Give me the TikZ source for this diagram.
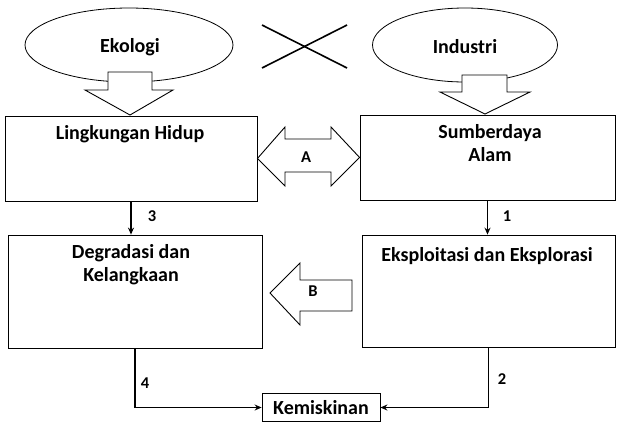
\documentclass[tikz,border=0pt]{standalone}
\usepackage{fontspec}
\setmainfont{Carlito}
\usetikzlibrary{shapes.geometric,arrows.meta}
\begin{document}
\begin{tikzpicture}[x=1pt,y=-1pt,
  box/.style={draw=black,line width=0.8pt,minimum width=#1,inner sep=0pt},
  oval/.style={draw=black,line width=0.8pt,ellipse,inner sep=0pt},
  txt/.style={font=\bfseries\fontsize{20}{24}\selectfont,align=center,inner sep=0pt},
  lbl/.style={font=\bfseries\fontsize{16.5}{19}\selectfont,inner sep=0pt},
  blockarrow/.style={draw=black,line width=0.9pt,fill=white,line join=miter},
  flow/.style={draw=black,line width=1.7pt,-{Stealth[length=7pt,width=6pt]}}]
\useasboundingbox (0,0) rectangle (617,429);

% top ovals and the cross between them
\node[oval,minimum width=208pt,minimum height=74pt] (eko) at (129,45) {};
\node[txt] at (130,47) {Ekologi};
\node[oval,minimum width=185pt,minimum height=74pt] (ind) at (465,45) {};
\node[txt] at (465,47) {Industri};
\coordinate (x1) at (262,25);
\coordinate (x2) at (347,68);
\coordinate (x3) at (262,68);
\coordinate (x4) at (347,25);
\draw[line width=1.6pt] (x1) -- (x2);
\draw[line width=1.6pt] (x3) -- (x4);

% boxes
\node[box=252pt,minimum height=85pt] (lingk) at (131,158.5) {};
\node[box=255pt,minimum height=85pt] (sda) at (487.5,157.5) {};
\node[box=254pt,minimum height=113pt] (degr) at (135,291.5) {};
\node[box=253pt,minimum height=112pt] (eksp) at (488.5,291) {};
\node[box=118pt,minimum height=28pt] (kemis) at (321,407.5) {};

\node[txt] at (130,134) {Lingkungan Hidup};
\node[txt,anchor=north] at (490,124) {Sumberdaya\\[-1pt]Alam};
\node[txt,anchor=north] at (131,244) {Degradasi dan\\[-1pt]Kelangkaan};
\node[txt] at (487,256) {Eksploitasi dan Eksplorasi};
\node[txt] at (321,408) {Kemiskinan};

% hollow block arrows
\draw[blockarrow] (108,72) -- (152,72) -- (152,90) -- (173,90) -- (130,115)
  -- (85,90) -- (108,90) -- cycle;
\draw[blockarrow] (462,75) -- (507,75) -- (507,92) -- (530,92) -- (485,114)
  -- (440,92) -- (462,92) -- cycle;
\draw[blockarrow] (lingk.east) -- (285,127) -- (285,139) -- (331,139) -- (331,127)
  -- (sda.west) -- (331,186) -- (331,172) -- (285,172) -- (285,186) -- cycle;
\node[lbl] at (306,157) {A};
\draw[blockarrow] (270,293) -- (300,263) -- (300,280) -- (352,280) -- (352,311)
  -- (300,311) -- (300,325) -- cycle;
\node[lbl] at (313,291) {B};

% numbered flows
\draw[flow] (lingk.south) -- (lingk.south |- degr.north);
\node[lbl] at (152,216) {3};
\draw[flow] (sda.south) -- (sda.south |- eksp.north);
\node[lbl] at (507,216) {1};
\draw[flow] (degr.south) |- (kemis.west);
\node[lbl] at (145,383) {4};
\draw[flow] (eksp.south) |- (kemis.east);
\node[lbl] at (502,379) {2};
\end{tikzpicture}
\end{document}
